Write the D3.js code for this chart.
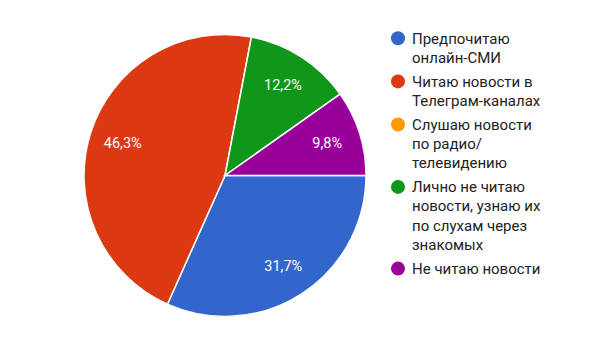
<!DOCTYPE html>
<html>
<head>
<meta charset="utf-8">
<script src="https://cdn.jsdelivr.net/npm/d3@7"></script>
<style>
  body { margin: 0; background: #fff; }
  text { font-family: Roboto, "Noto Sans", sans-serif; }
</style>
</head>
<body>
<svg id="chart" width="601" height="351"></svg>
<script>
// data
var labels = [
  ["Предпочитаю", "онлайн-СМИ"],
  ["Читаю новости в", "Телеграм-каналах"],
  ["Слушаю новости", "по радио/", "телевидению"],
  ["Лично не читаю", "новости, узнаю их", "по слухам через", "знакомых"],
  ["Не читаю новости"]
];
var values = [31.7, 46.3, 0, 12.2, 9.8];
var colors = ["#3366cc", "#dc3912", "#ff9900", "#109618", "#990099"];

var svg = d3.select("#chart");
var cx = 225, cy = 175.5, r = 141;

var data = values.map(function(v, i) { return { label: labels[i], value: v, color: colors[i] }; });

// google-style pie: start at 3 o'clock, go clockwise
var pie = d3.pie().sort(null).value(function(d) { return d.value; })
  .startAngle(Math.PI / 2).endAngle(Math.PI / 2 + 2 * Math.PI);
var arc = d3.arc().innerRadius(0).outerRadius(r);
var labelArc = d3.arc().innerRadius(r * 0.76).outerRadius(r * 0.76);

var g = svg.append("g").attr("transform", "translate(" + cx + "," + cy + ")");
var shown = pie(data).filter(function(d) { return d.data.value > 0; });

g.selectAll("path.slice")
  .data(shown)
  .enter().append("path")
  .attr("class", "slice")
  .attr("d", arc)
  .attr("fill", function(d) { return d.data.color; })
  .attr("stroke", "#fff")
  .attr("stroke-width", 1.5);

g.selectAll("text.pct")
  .data(shown)
  .enter().append("text")
  .attr("class", "pct")
  .attr("transform", function(d) { return "translate(" + labelArc.centroid(d) + ")"; })
  .attr("text-anchor", "middle")
  .attr("dy", "0.35em")
  .attr("fill", "#fff")
  .style("font-size", "14.5px")
  .text(function(d) { return d3.format(".1f")(d.data.value).replace(".", ",") + "%"; });

// legend
var lineH = 19.3, gap = 4.5;
var legend = svg.append("g").attr("transform", "translate(398,38.3)");
var y = 0;
data.forEach(function(d) {
  var item = legend.append("g").attr("transform", "translate(0," + y + ")");
  item.append("circle").attr("r", 7).attr("fill", d.color);
  var t = item.append("text")
    .attr("fill", "#222")
    .style("font-size", "15px");
  d.label.forEach(function(line, i) {
    t.append("tspan").attr("x", 14).attr("y", i * lineH).attr("dy", "0.35em").text(line);
  });
  y += d.label.length * lineH + gap;
});
</script>
</body>
</html>
